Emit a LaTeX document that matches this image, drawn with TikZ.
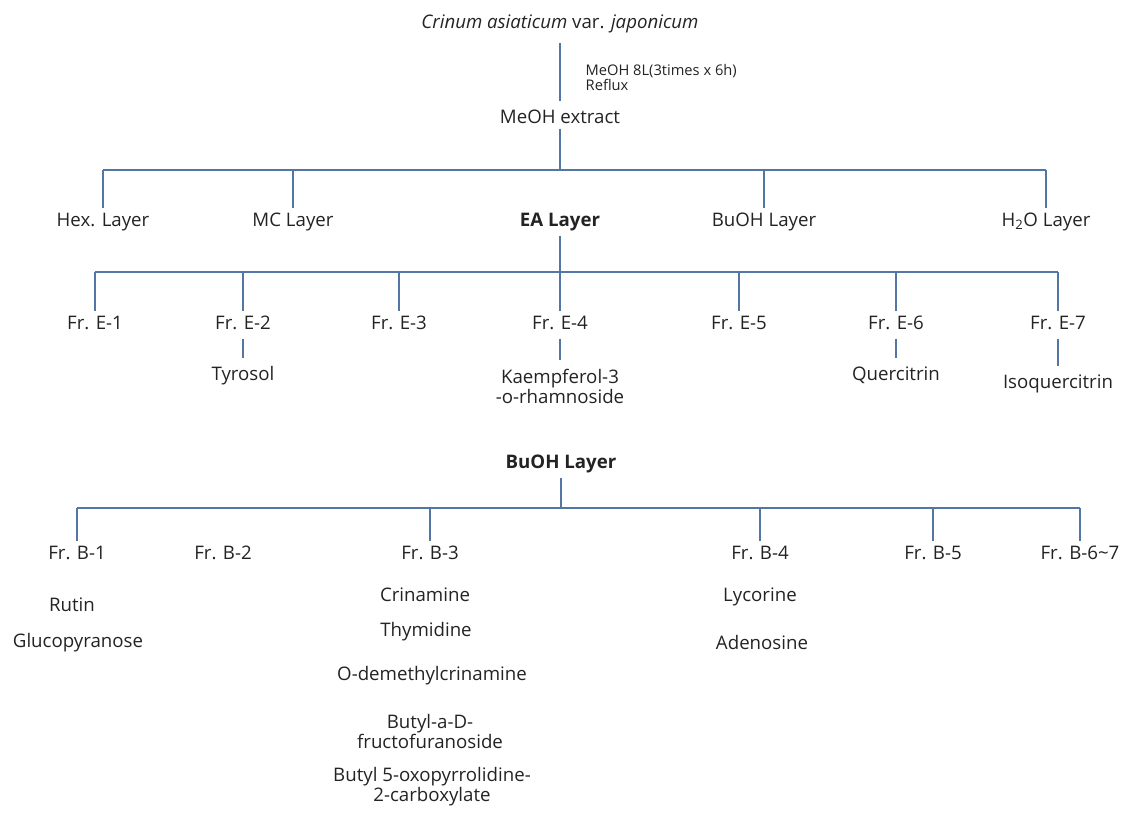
\documentclass[tikz,border=0pt]{standalone}
\usepackage{fontspec}
\setmainfont{Open Sans}
\usepackage{tikz}
\definecolor{linkblue}{RGB}{84,118,162}
\definecolor{inkgray}{RGB}{35,35,35}
\tikzset{
  layer/.style={text=inkgray, font=\fontsize{14pt}{15pt}\selectfont, align=center},
  frac/.style={layer},
  compound/.style={layer},
  note/.style={text=inkgray, font=\fontsize{11pt}{11.25pt}\selectfont, align=left, anchor=west},
  bar/.style={draw=linkblue, line width=1.5pt},
  drop/.style={draw=linkblue, line width=0.8pt},
  stub/.style={drop, shorten <=3pt, shorten >=3pt}
}

\begin{document}
\begin{tikzpicture}[x=0.75pt,y=-0.75pt]
    \useasboundingbox (0,0) rectangle (1122,813);

    \node[layer] (plant) at (560,24) {\itshape Crinum asiaticum\/ \upshape var. \itshape japonicum};
    \node[layer] (extract) at (560,117) {MeOH extract};
    \node[note] (reflux) at (581,78) {MeOH 8L(3times x 6h)\\Reflux};
    \draw[drop, shorten <=4pt, shorten >=3pt] (plant) -- (extract);

    \node[layer] (hex) at (103,222) {Hex. Layer};
    \node[layer] (mc) at (293,222) {MC Layer};
    \node[layer,font=\fontsize{14pt}{15pt}\selectfont\bfseries] (ea) at (560,222) {EA Layer};
    \node[layer] (buoh) at (764,222) {BuOH Layer};
    \node[layer] (water) at (1046,222) {H\textsubscript{2}O Layer};
    \coordinate (split1) at (560,170);
    \draw[drop] (extract) -- (split1);
    \draw[bar] (hex |- split1) -- (water |- split1);
    \foreach \n in {hex,mc,buoh,water}
      \draw[drop] (\n |- split1) -- (\n);

    \foreach \i/\x in {1/95,2/243,3/399,4/560,5/739,6/896,7/1058}
      \node[frac] (e\i) at (\x,323) {Fr. E-\i};
    \coordinate (split2) at (560,272);
    \draw[drop] (ea) -- (split2);
    \draw[bar] (e1 |- split2) -- (e7 |- split2);
    \foreach \i in {1,...,7}
      \draw[drop] (e\i |- split2) -- (e\i);

    \node[compound] (tyrosol) at (243,376) {Tyrosol};
    \node[compound] (kaempferol) at (560,386) {Kaempferol-3\\-o-rhamnoside};
    \node[compound] (quercitrin) at (896,375) {Quercitrin};
    \node[compound] (isoquercitrin) at (1058,384) {Isoquercitrin};
    \draw[stub] (e2) -- (tyrosol);
    \draw[stub] (e4) -- (kaempferol);
    \draw[stub] (e6) -- (quercitrin);
    \draw[stub] (e7) -- (isoquercitrin);

    \node[layer,font=\fontsize{14pt}{15pt}\selectfont\bfseries] (bulayer) at (561,464) {BuOH Layer};
    \foreach \n/\x/\t in {b1/77/B-1,b2/223/B-2,b3/430/B-3,b4/760/B-4,b5/933/B-5,b67/1080/B-6\textasciitilde 7}
      \node[frac] (\n) at (\x,553) {Fr. \t};
    \coordinate (split3) at (561,508);
    \draw[drop] (bulayer) -- (split3);
    \draw[bar] (b1 |- split3) -- (b67 |- split3);
    \foreach \n in {b1,b3,b4,b5,b67}
      \draw[drop] (\n |- split3) -- (\n);

    \node[compound] (rutin) at (72,605) {Rutin};
    \node[compound] (glucopyranose) at (78,643) {Glucopyranose};
    \node[compound] (crinamine) at (425,595) {Crinamine};
    \node[compound] (thymidine) at (426,632) {Thymidine};
    \node[compound] (demethyl) at (432,676) {O-demethylcrinamine};
    \node[compound] (fructo) at (430,731) {Butyl-a-D-\\fructofuranoside};
    \node[compound] (pyrrol) at (432,787) {Butyl 5-oxopyrrolidine-\\2-carboxylate};
    \node[compound] (lycorine) at (760,597) {Lycorine};
    \node[compound] (adenosine) at (762,642) {Adenosine};
\end{tikzpicture}
\end{document}
